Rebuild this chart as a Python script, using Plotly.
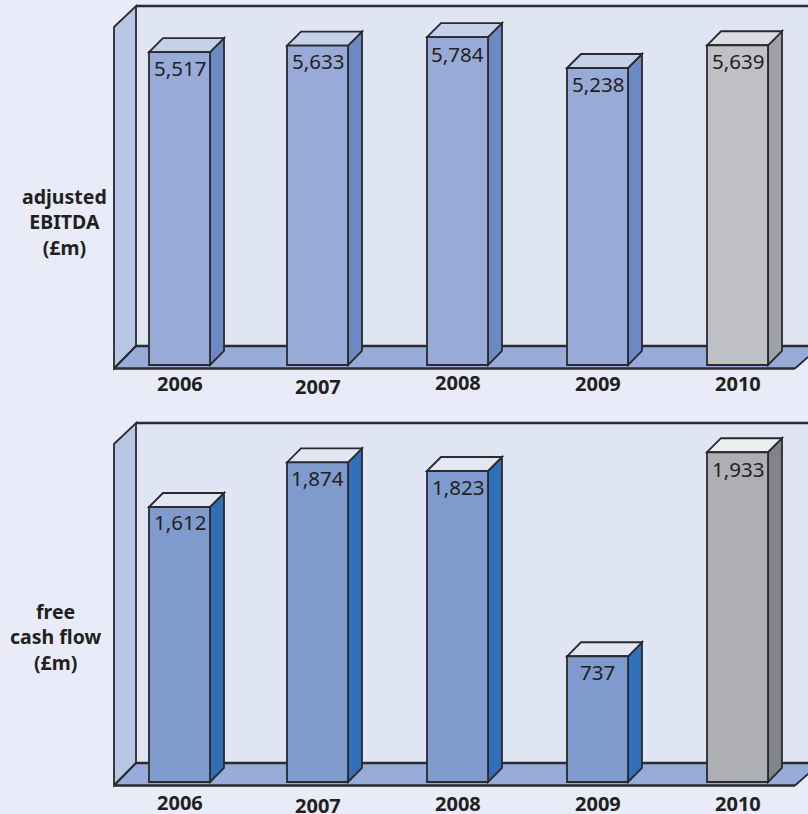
import plotly.graph_objects as go

# --- data ---
years = ["2006", "2007", "2008", "2009", "2010"]
ebitda = [5517, 5633, 5784, 5238, 5639]
free_cash_flow = [1612, 1874, 1823, 737, 1933]
ebitda_labels = ["5,517", "5,633", "5,784", "5,238", "5,639"]
fcf_labels = ["1,612", "1,874", "1,823", "737", "1,933"]
ebitda_title = ["adjusted", "EBITDA", "(£m)"]
fcf_title = ["free", "cash flow", "(£m)"]

# --- layout constants (pixels) ---
W, H = 808, 814
PAGE = "#E9ECF8"
BACK = "#DFE5F3"
WALL = "#B9C6E3"
FLOOR = "#98ACDA"
INK = "#2B2A2E"
TXT = "#231F20"
FONT = "Noto Sans"
STEP = 140.0
X0 = 177.5
NUDGE = [2 / STEP, 0, 0, 0, 0]
BAR_W = 61 / STEP
DEPTH = 14
OUTLINE = 1.8
positions = [i + n for i, n in enumerate(NUDGE)]
xr = [(0 - X0) / STEP, (W - X0) / STEP]

fig = go.Figure()
shapes, annos = [], []


def poly(pts, fill, xref="paper", yref="paper", lw=OUTLINE, lc=INK):
    d = "M " + " L ".join(f"{x} {y}" for x, y in pts) + " Z"
    return dict(type="path", path=d, xref=xref, yref=yref, fillcolor=fill,
                line=dict(color=lc, width=lw), layer="below")


def P(x, y):
    return (x / W, 1 - y / H)


def seg(x0, y0, x1, y1, lw=2.5):
    a, b = P(x0, y0), P(x1, y1)
    return dict(type="line", xref="paper", yref="paper", x0=a[0], y0=a[1], x1=b[0], y1=b[1],
                line=dict(color=INK, width=lw), layer="below")


def panel(idx, values, labels, title, title_y, dy, scale, base_px, dom, front, side, top,
          gfront, gside, gtop, lab_off, year_y, title_x):
    suffix = "" if idx == 1 else str(idx)
    xa, ya = "x" + suffix, "y" + suffix
    top_px, bot_px = dom
    yr = [(base_px - bot_px) / scale, (base_px - top_px) / scale]
    fig.update_layout(**{
        "xaxis" + suffix: dict(domain=[0, 1], range=xr, visible=False, anchor=ya, fixedrange=True),
        "yaxis" + suffix: dict(domain=[1 - bot_px / H, 1 - top_px / H], range=yr, visible=False,
                               anchor=xa, fixedrange=True),
    })
    shapes.append(poly([P(136, 6 + dy), P(W, 6 + dy), P(W, 346 + dy), P(136, 346 + dy)], BACK, lw=0))
    shapes.append(poly([P(114, 368.5 + dy), P(136, 346 + dy), P(W, 346 + dy), P(W, 357 + dy), P(795, 368.5 + dy)],
                       FLOOR, lw=0))
    shapes.append(poly([P(114, 27 + dy), P(136, 6 + dy), P(136, 346 + dy), P(114, 368.5 + dy)], WALL))
    shapes.append(seg(136, 6 + dy, W, 6 + dy))
    shapes.append(seg(136, 346 + dy, W, 346 + dy))
    shapes.append(seg(114, 368.5 + dy, 795, 368.5 + dy))
    shapes.append(seg(795, 368.5 + dy, W, 357 + dy, 1.8))
    shapes.append(seg(114, 368.5 + dy, 136, 346 + dy, 1.8))

    colors = [gfront if y == "2010" else front for y in years]
    fig.add_trace(go.Bar(x=positions, y=values, width=BAR_W, xaxis=xa, yaxis=ya,
                         marker=dict(color=colors, line=dict(color=INK, width=OUTLINE)),
                         hoverinfo="skip", showlegend=False))
    ddx, ddy = DEPTH / STEP, DEPTH / scale
    for pos, v, y, lab, off in zip(positions, values, years, labels, lab_off):
        l, r = pos - BAR_W / 2, pos + BAR_W / 2
        sc = gside if y == "2010" else side
        tc = gtop if y == "2010" else top
        shapes.append(poly([(r, 0), (r + ddx, ddy), (r + ddx, v + ddy), (r, v)], sc, xa, ya))
        shapes.append(poly([(l, v), (l + ddx, v + ddy), (r + ddx, v + ddy), (r, v)], tc, xa, ya))
        annos.append(dict(x=pos, y=v, xref=xa, yref=ya, text=lab, showarrow=False, yanchor="middle",
                          xanchor="center", yshift=-off, font=dict(family=FONT, size=20.5, color=TXT)))
    for pos, y, yy in zip(positions, years, year_y):
        annos.append(dict(x=pos, y=1 - yy / H, xref=xa, yref="paper", text=f"<b>{y}</b>", showarrow=False,
                          yanchor="middle", xanchor="center", font=dict(family=FONT, size=20, color=TXT)))
    annos.append(dict(x=title_x / W, y=1 - title_y / H, xref="paper", yref="paper",
                      text="<b>" + "<br>".join(title) + "</b>", align="center",
                      showarrow=False, yanchor="middle", xanchor="center",
                      font=dict(family=FONT, size=19.5, color=TXT)))


panel(1, ebitda, ebitda_labels, ebitda_title, 222.5, 0, 0.0567, 365, (0, 400),
      "#98ABD8", "#6B8AC5", "#C5D0E9", "#BFC1C6", "#9FA1A5", "#DCDDDF",
      [16, 15.5, 16.5, 16, 15.5], [383, 386, 382, 383, 383], 64.5)
panel(2, free_cash_flow, fcf_labels, fcf_title, 637, 417, 0.1706, 782, (410, 814),
      "#7F9ACD", "#2F70B8", "#E3E7F3", "#AEAFB3", "#818386", "#ECEDEE",
      [15, 16, 16, 16, 17], [802, 805, 803, 803, 803], 56)

fig.update_layout(width=W, height=H, margin=dict(l=0, r=0, t=0, b=0), autosize=False,
                  paper_bgcolor=PAGE, plot_bgcolor="rgba(0,0,0,0)", showlegend=False,
                  shapes=shapes, annotations=annos)
fig.write_html("out.html", config=dict(displayModeBar=False),
               post_script="document.body.style.margin='0';document.body.style.background='%s';"
                           "document.documentElement.style.overflow='hidden';" % PAGE)
